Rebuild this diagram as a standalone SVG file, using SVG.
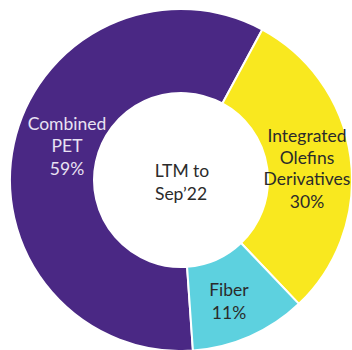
<svg xmlns="http://www.w3.org/2000/svg" width="352" height="350" viewBox="0 0 352 350">
<style>
.slice{stroke:#ffffff;stroke-width:2;stroke-linejoin:round}
.pet{fill:#4a2884}
.ole{fill:#f9e81f}
.fib{fill:#5dd1df}
text{font-family:Lato,"Open Sans","DejaVu Sans",sans-serif;font-size:17.5px;text-anchor:middle}
.light{fill:#e9e2f3}
.dark{fill:#2b2b2b}
</style>
<rect width="352" height="350" fill="#ffffff"/>
<g id="combined-pet">
<path class="slice pet" d="M 192.93 350.58 A 171 171 0 1 1 262.33 29.59 L 222.38 103.47 A 87 87 0 1 0 187.07 266.79 Z"/>
<text class="light" x="67" y="130">Combined</text>
<text class="light" x="67" y="152">PET</text>
<text class="light" x="67" y="175">59%</text>
</g>
<g id="integrated-olefins">
<path class="slice ole" d="M 262.33 29.59 A 171 171 0 0 1 298.92 303.84 L 241.0 243.01 A 87 87 0 0 0 222.38 103.47 Z"/>
<text class="dark" x="307" y="141.5">Integrated</text>
<text class="dark" x="307" y="163.5">Olefins</text>
<text class="dark" x="307" y="185">Derivatives</text>
<text class="dark" x="307" y="207.5">30%</text>
</g>
<g id="fiber">
<path class="slice fib" d="M 298.92 303.84 A 171 171 0 0 1 192.93 350.58 L 187.07 266.79 A 87 87 0 0 0 241.0 243.01 Z"/>
<text class="dark" x="229" y="296">Fiber</text>
<text class="dark" x="229" y="318.5">11%</text>
</g>
<g id="center-label">
<text class="dark" x="182" y="176.5">LTM to</text>
<text class="dark" x="181" y="199.5">Sep’22</text>
</g>
</svg>
